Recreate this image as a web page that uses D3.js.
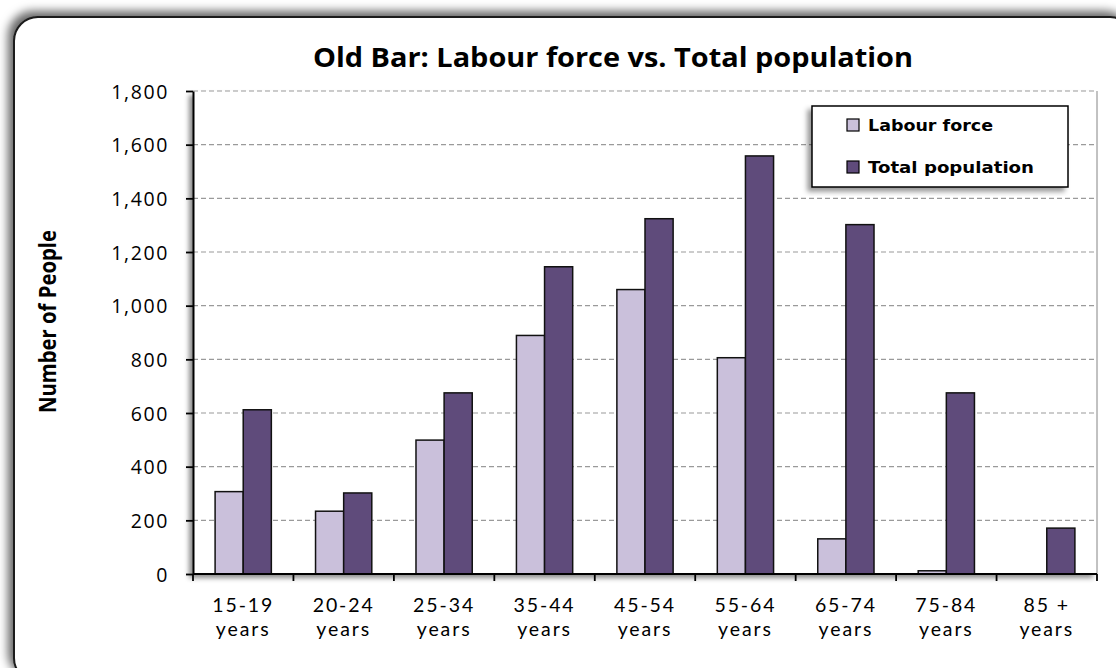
<!DOCTYPE html>
<html>
<head>
<meta charset="utf-8">
<script src="https://cdn.jsdelivr.net/npm/d3@7"></script>
<style>
  html, body { margin: 0; padding: 0; background: #ffffff; }
  svg { display: block; }
</style>
</head>
<body>
<svg id="chart" width="1116" height="668"></svg>
<script>
// Age groups along the x axis (two-line labels)
const categories = ["15-19 years", "20-24 years", "25-34 years", "35-44 years", "45-54 years",
                    "55-64 years", "65-74 years", "75-84 years", "85 + years"];
const seriesNames = ["Labour force", "Total population"];
const labourForce = [307, 234, 499, 889, 1060, 806, 131, 12, 0];
const totalPopulation = [612, 302, 675, 1145, 1324, 1558, 1302, 675, 171];
const yTicks = [0, 200, 400, 600, 800, 1000, 1200, 1400, 1600, 1800];

const colors = { "Labour force": "#cac0db", "Total population": "#5f4b7b" };

const svg = d3.select("#chart");
const defs = svg.append("defs");

function shadow(id, dx, dy, sd, op) {
  const f = defs.append("filter").attr("id", id)
    .attr("x", "-10%").attr("y", "-10%").attr("width", "120%").attr("height", "120%");
  f.append("feDropShadow").attr("dx", dx).attr("dy", dy).attr("stdDeviation", sd)
    .attr("flood-color", "#000").attr("flood-opacity", op);
}
shadow("frameShadow", -5, -5, 5, 0.6);
shadow("plotShadow", -4, 4, 2.5, 0.45);
shadow("legendShadow", -4, 4, 2.5, 0.4);

// Outer rounded chart frame
svg.append("rect")
  .attr("x", 14).attr("y", 17).attr("width", 1120).attr("height", 665)
  .attr("rx", 24).attr("ry", 24)
  .attr("fill", "#fff").attr("stroke", "#1a1a1a").attr("stroke-width", 2)
  .attr("filter", "url(#frameShadow)");

const plot = { left: 193, right: 1097, top: 91, bottom: 574 };

const x0 = d3.scaleBand().domain(categories)
  .range([plot.left, plot.right]).paddingInner(0.44).paddingOuter(0.22);
const x1 = d3.scaleBand().domain(seriesNames).range([0, x0.bandwidth()]);
const y = d3.scaleLinear().domain([0, 1800]).range([plot.bottom, plot.top]);
const step = x0.step();

// Plot area with its shadow
svg.append("rect")
  .attr("x", plot.left).attr("y", plot.top)
  .attr("width", plot.right - plot.left).attr("height", plot.bottom - plot.top)
  .attr("fill", "#fff").attr("filter", "url(#plotShadow)");

// Dashed horizontal gridlines
svg.append("g").selectAll("line").data(yTicks.filter(d => d > 0)).join("line")
  .attr("x1", plot.left).attr("x2", plot.right)
  .attr("y1", d => y(d)).attr("y2", d => y(d))
  .attr("stroke", "#9a9a9a").attr("stroke-width", 1.2).attr("stroke-dasharray", "5,3");

// Right border of plot area
svg.append("line")
  .attr("x1", plot.right).attr("x2", plot.right)
  .attr("y1", plot.top).attr("y2", plot.bottom)
  .attr("stroke", "#9a9a9a").attr("stroke-width", 1.2);

// Bars
const rows = categories.map((c, i) => ({ cat: c, values: [
  { key: "Labour force", value: labourForce[i] },
  { key: "Total population", value: totalPopulation[i] }
]}));

const groups = svg.append("g").selectAll("g").data(rows).join("g")
  .attr("transform", d => `translate(${x0(d.cat)},0)`);
groups.selectAll("rect").data(d => d.values.filter(v => v.value > 0)).join("rect")
  .attr("x", d => x1(d.key))
  .attr("width", x1.bandwidth())
  .attr("y", d => y(d.value))
  .attr("height", d => y(0) - y(d.value))
  .attr("fill", d => colors[d.key])
  .attr("stroke", "#111").attr("stroke-width", 1.5);

// Y axis
const yAxis = d3.axisLeft(y).tickValues(yTicks).tickSize(7).tickSizeOuter(0)
  .tickFormat(d3.format(","));
const gy = svg.append("g").attr("transform", `translate(${plot.left},0)`).call(yAxis);
gy.select(".domain").attr("stroke", "#000").attr("stroke-width", 2);
gy.selectAll(".tick line").attr("stroke", "#000").attr("stroke-width", 1.8);
gy.selectAll(".tick text")
  .attr("x", -24).attr("dy", "0.37em")
  .attr("font-family", "'Open Sans', sans-serif").attr("font-size", 19.5)
  .attr("letter-spacing", 1.6)
  .attr("fill", "#000");

// X axis: domain line plus ticks at group boundaries
const gx = svg.append("g");
gx.append("line")
  .attr("x1", plot.left).attr("x2", plot.right)
  .attr("y1", plot.bottom).attr("y2", plot.bottom)
  .attr("stroke", "#000").attr("stroke-width", 2);
const boundaries = d3.range(categories.length + 1).map(i => plot.left + i * step);
gx.selectAll("line.tk").data(boundaries).join("line").attr("class", "tk")
  .attr("x1", d => d).attr("x2", d => d)
  .attr("y1", plot.bottom).attr("y2", plot.bottom + 7)
  .attr("stroke", "#000").attr("stroke-width", 1.8);

// Category labels, two lines each
const labelLines = categories.map(c => c.split(/ (?=years)/));
[0, 1].forEach(line => {
  gx.selectAll(`text.l${line}`).data(categories).join("text")
    .attr("class", `l${line}`)
    .attr("x", d => x0(d) + x0.bandwidth() / 2)
    .attr("y", line === 0 ? 612 : 636)
    .attr("text-anchor", "middle")
    .attr("font-family", "Lato, sans-serif").attr("font-size", 19.5)
    .attr("letter-spacing", 1.9)
    .attr("fill", "#000")
    .text((d, i) => labelLines[i][line]);
});

// Title
svg.append("text")
  .attr("x", 613).attr("y", 67)
  .attr("text-anchor", "middle")
  .attr("font-family", "'Open Sans', sans-serif").attr("font-weight", "bold")
  .attr("font-size", 26.5)
  .attr("textLength", 600).attr("lengthAdjust", "spacingAndGlyphs")
  .text("Old Bar: Labour force vs. Total population");

// Y axis title
svg.append("text")
  .attr("transform", "translate(56,321.5) rotate(-90)")
  .attr("text-anchor", "middle")
  .attr("font-family", "'Open Sans', sans-serif").attr("font-weight", "bold")
  .attr("font-size", 24)
  .attr("textLength", 183).attr("lengthAdjust", "spacingAndGlyphs")
  .text("Number of People");

// Legend
const lg = svg.append("g");
lg.append("rect")
  .attr("x", 812).attr("y", 106).attr("width", 256).attr("height", 81)
  .attr("fill", "#fff").attr("stroke", "#000").attr("stroke-width", 1.5)
  .attr("filter", "url(#legendShadow)");
const li = lg.selectAll("g").data(seriesNames).join("g")
  .attr("transform", (d, i) => `translate(847,${125 + i * 42})`);
li.append("rect")
  .attr("x", 0).attr("y", -6).attr("width", 12).attr("height", 12)
  .attr("fill", d => colors[d]).attr("stroke", "#000").attr("stroke-width", 1.2);
li.append("text")
  .attr("x", 21).attr("y", 6)
  .attr("font-family", "'DejaVu Sans', sans-serif").attr("font-weight", "bold")
  .attr("font-size", 16)
  .attr("textLength", (d, i) => i === 0 ? 125 : 166).attr("lengthAdjust", "spacingAndGlyphs")
  .text(d => d);
</script>
</body>
</html>
